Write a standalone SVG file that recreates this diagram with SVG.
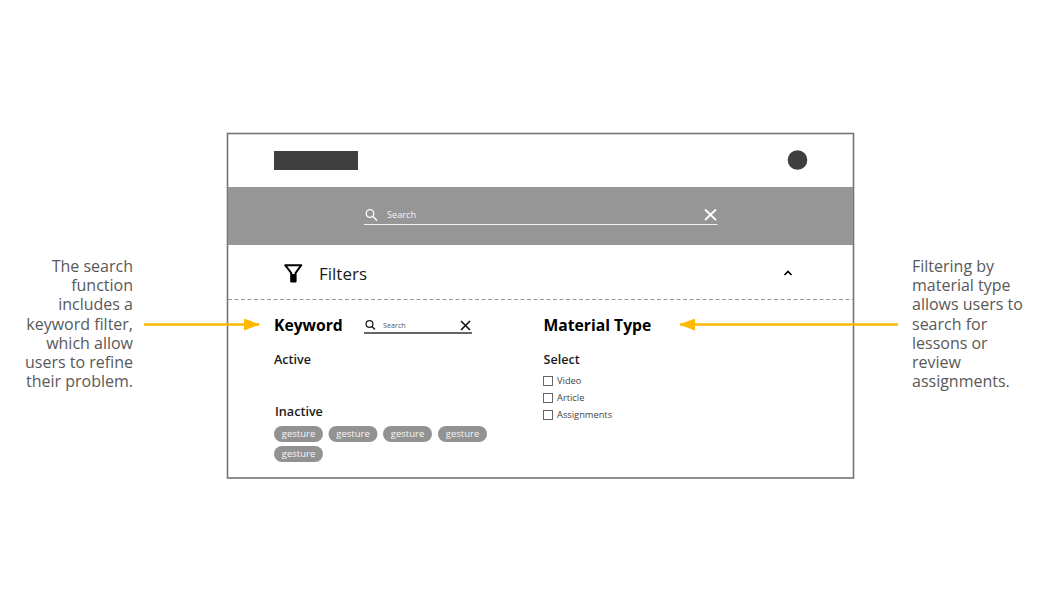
<svg xmlns="http://www.w3.org/2000/svg" width="1052" height="600" viewBox="0 0 1052 600">
<defs>
<marker id="arrow" viewBox="0 0 16 12" refX="15" refY="6" markerUnits="userSpaceOnUse" markerWidth="16" markerHeight="12" orient="auto"><path d="M0 0L16 6L0 12Z" fill="#ffb900"/></marker>
</defs>
<style>
text{font-family:"Open Sans","Noto Sans",sans-serif}
.note{font-size:16px;fill:#595959}
.h{font-size:15.7px;font-weight:700;fill:#000}
.sub{font-size:12.6px;font-weight:600;fill:#1a1a1a}
.opt{font-size:9.3px;fill:#444}
.chip rect{fill:#929292}
.chip text{font-size:9.5px;fill:#f7f7f7;text-anchor:middle}
.box{fill:#fff;stroke:#666;stroke-width:1}
.conn{stroke:#ffb900;stroke-width:2.4;fill:none;marker-end:url(#arrow)}
</style>
<rect width="1052" height="600" fill="#fff"/>
<g id="frame"><rect x="227.500" y="133.500" width="626" height="344.500" fill="#fff" stroke="#747474" stroke-width="1.600"/></g>
<g id="header">
<rect x="274" y="151" width="84" height="19" fill="#3f3f3f"/>
<circle cx="797.500" cy="160" r="9.800" fill="#3f3f3f"/>
</g>
<g id="search-bar">
<rect x="228" y="187" width="625" height="58" fill="#969696"/>
<circle cx="370" cy="213.500" r="3.800" fill="none" stroke="#fff" stroke-width="1.300"/>
<path d="M373 216.500L377 220.500" stroke="#fff" stroke-width="1.500"/>
<text x="387" y="218" font-size="9.200" fill="#f5f5f5">Search</text>
<path d="M364 224.500H717.500" stroke="#f2f2f2" stroke-width="1.200"/>
<path d="M705 209.500L716 220M716 209.500L705 220" stroke="#fff" stroke-width="1.800" fill="none"/>
</g>
<g id="filters">
<path d="M285.200 265.200H301.300L295.600 273V281.500H291.200V273Z" fill="#fff" stroke="#000" stroke-width="2" stroke-linejoin="round"/>
<path d="M291.200 274H295.600V281.500H291.200Z" fill="#000"/>
<text x="319" y="280" font-size="17" fill="#1a1a1a">Filters</text>
<path d="M784.500 275L788 271.500L791.500 275" fill="none" stroke="#000" stroke-width="1.700"/>
<path d="M228 299.500H853" stroke="#999" stroke-width="1" stroke-dasharray="4 2.500"/>
</g>
<g id="keyword">
<text class="h" x="274" y="331">Keyword</text>
<circle cx="369.500" cy="324" r="3.400" fill="none" stroke="#222" stroke-width="1.300"/>
<path d="M372 326.500L375 329.500" stroke="#222" stroke-width="1.500"/>
<text x="383" y="328" font-size="7.200" fill="#555">Search</text>
<path d="M364 333H472" stroke="#333" stroke-width="1.300"/>
<path d="M461 321L470 330M470 321L461 330" stroke="#111" stroke-width="1.600" fill="none"/>
<text class="sub" x="274" y="364">Active</text>
<text class="sub" x="275" y="416">Inactive</text>
</g>
<g id="chip-1" class="chip"><rect x="274" y="426" width="49" height="16" rx="8"/><text x="298.500" y="437">gesture</text></g>
<g id="chip-2" class="chip"><rect x="328.500" y="426" width="49" height="16" rx="8"/><text x="353" y="437">gesture</text></g>
<g id="chip-3" class="chip"><rect x="383" y="426" width="49" height="16" rx="8"/><text x="407.500" y="437">gesture</text></g>
<g id="chip-4" class="chip"><rect x="438" y="426" width="49" height="16" rx="8"/><text x="462.500" y="437">gesture</text></g>
<g id="chip-5" class="chip"><rect x="274" y="446" width="49" height="16" rx="8"/><text x="298.500" y="457">gesture</text></g>
<g id="material">
<text class="h" x="543.500" y="331">Material Type</text>
<text class="sub" x="543.500" y="364">Select</text>
<rect class="box" x="543.500" y="376.500" width="9" height="9"/>
<text class="opt" x="557" y="384">Video</text>
<rect class="box" x="543.500" y="393.500" width="9" height="9"/>
<text class="opt" x="557" y="401">Article</text>
<rect class="box" x="543.500" y="410.500" width="9" height="9"/>
<text class="opt" x="557" y="418">Assignments</text>
</g>
<g id="note-left">
<text class="note" text-anchor="end"><tspan x="133" y="271.500">The search</tspan><tspan x="133" y="291">function</tspan><tspan x="133" y="310">includes a</tspan><tspan x="133" y="329.500">keyword filter,</tspan><tspan x="133" y="348.500">which allow</tspan><tspan x="133" y="368">users to refine</tspan><tspan x="133" y="387">their problem.</tspan></text>
</g>
<g id="note-right">
<text class="note"><tspan x="912" y="271.500">Filtering by</tspan><tspan x="912" y="291">material type</tspan><tspan x="912" y="310">allows users to</tspan><tspan x="912" y="329.500">search for</tspan><tspan x="912" y="348.500">lessons or</tspan><tspan x="912" y="368">review</tspan><tspan x="912" y="387">assignments.</tspan></text>
</g>
<g id="connectors">
<path class="conn" d="M144 324.500H259"/>
<path class="conn" d="M898 324.500H680"/>
</g>
</svg>
